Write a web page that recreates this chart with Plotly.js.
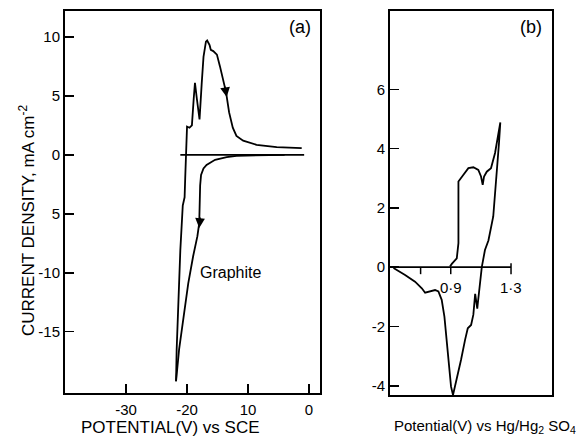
<!DOCTYPE html>
<html>
<head>
<meta charset="utf-8">
<script src="https://cdn.plot.ly/plotly-3.0.1.min.js"></script>
<style>html,body{margin:0;padding:0;background:#fff;}#chart{width:579px;height:438px;}</style>
</head>
<body>
<div id="chart"></div>
<script>
// ---- Panel (a): graphite, potential (V) vs SCE, current density mA cm^-2 ----
const aBaseX = [-21.1, -0.8];
const aBaseY = [0, 0];
const aCathX = [-4.0, -8.0, -10.5, -11.9, -13.5, -14.6, -15.4, -16.0, -16.8, -17.3, -17.7, -17.85, -17.9, -18.0, -18.3, -19.0, -19.8, -20.6, -21.3, -21.8];
const aCathY = [0, -0.02, -0.05, -0.08, -0.2, -0.3, -0.42, -0.6, -0.85, -1.15, -1.7, -2.6, -3.8, -5.8, -6.9, -8.6, -10.9, -13.7, -16.5, -19.2];
const aAnodX = [-21.8, -21.7, -21.4, -21.1, -20.7, -20.4, -20.3, -20.15, -20.0, -19.6, -19.2, -18.9, -18.7, -18.4, -17.95, -17.6, -17.3, -16.9, -16.7, -16.3, -16.1, -15.7, -15.1, -14.6, -14.0, -13.6, -13.1, -12.5, -11.9, -10.8, -8.6, -5.3, -1.2];
const aAnodY = [-19.2, -16.5, -12.3, -8.1, -4.3, -3.6, -2.0, 0.5, 2.4, 2.3, 2.5, 4.8, 6.1, 4.8, 3.0, 6.0, 8.3, 9.6, 9.7, 9.3, 8.9, 8.8, 8.5, 7.5, 6.1, 5.3, 3.6, 2.3, 1.6, 1.2, 0.85, 0.65, 0.57];
const aXTickVals = [-30, -20, -10, 0];
const aXTickText = ['-30', '-20', '10', '0'];
const aYTickVals = [10, 5, 0, -5, -10, -15];
const aYTickText = ['10', '5', '0', '5', '-10', '-15'];
const aArrowX = [-13.5, -18.0];
const aArrowY = [4.9, -6.2];

// ---- Panel (b): potential (V) vs Hg/Hg2SO4 ----
const bX = [0.52, 0.597, 0.663, 0.708, 0.73, 0.763, 0.796, 0.818, 0.84, 0.858, 0.873, 0.889, 0.902, 0.915, 0.94, 0.968, 0.995, 1.013, 1.035, 1.05, 1.062, 1.076, 1.08, 1.106, 1.127, 1.15, 1.182, 1.205, 1.22, 1.229, 1.194, 1.167, 1.139, 1.121, 1.112, 1.101, 1.083, 1.05, 1.017, 0.983, 0.962, 0.951, 0.951, 0.94, 0.907, 0.895];
const bY = [-0.03, -0.26, -0.49, -0.71, -0.86, -0.82, -0.77, -0.82, -1.10, -1.67, -2.56, -3.46, -4.03, -4.31, -3.80, -3.13, -2.45, -2.06, -1.95, -1.6, -0.9, -1.4, -1.2, 0, 0.58, 0.9, 1.71, 3.06, 4.18, 4.88, 3.85, 3.34, 3.22, 3.06, 2.78, 3.06, 3.28, 3.37, 3.34, 3.11, 2.94, 2.89, 0.81, 0.30, 0.11, 0.02];
const bYTickVals = [6, 4, 2, 0, -2, -4];
const bYTickText = ['6', '4', '2', '0', '-2', '-4'];
const bInnerStart = 0.5;
const bInnerEnd = 1.3;
const bInnerTickVals = [0.7, 0.9, 1.3];
const bInnerTickText = ['', '0·9', '1·3'];

const lineStyle = {color: '#000', width: 1.8};
const traces = [
  {x: aBaseX, y: aBaseY, mode: 'lines', line: lineStyle, xaxis: 'x', yaxis: 'y', hoverinfo: 'skip'},
  {x: aCathX, y: aCathY, mode: 'lines', line: lineStyle, xaxis: 'x', yaxis: 'y', hoverinfo: 'skip'},
  {x: aAnodX, y: aAnodY, mode: 'lines', line: lineStyle, xaxis: 'x', yaxis: 'y', hoverinfo: 'skip'},
  {x: bX, y: bY, mode: 'lines', line: lineStyle, xaxis: 'x2', yaxis: 'y2', hoverinfo: 'skip'}
];

const axisCommon = {
  showline: true, mirror: true, linewidth: 2, linecolor: '#000',
  showgrid: false, zeroline: false, ticks: 'inside', ticklen: 9, tickwidth: 1.5, tickcolor: '#000',
  tickfont: {size: 15, color: '#000'}, fixedrange: true
};

const shapes = [
  {type: 'line', xref: 'x2', yref: 'y2', x0: bInnerStart, x1: bInnerEnd, y0: 0, y1: 0, line: {color: '#000', width: 1.8}}
];
bInnerTickVals.forEach((v, i) => {
  const last = i === bInnerTickVals.length - 1;
  shapes.push({type: 'line', xref: 'x2', yref: 'y2', ysizemode: 'pixel', yanchor: 0,
    x0: v, x1: v, y0: last ? 4 : 0, y1: -7, line: {color: '#000', width: 1.5}});
});

const annotations = [
  {text: 'CURRENT DENSITY, mA cm<sup>-2</sup>', xref: 'paper', yref: 'paper', x: 0.0466, y: 0.4977,
   textangle: -90, showarrow: false, xanchor: 'center', yanchor: 'middle', font: {size: 17}},
  {text: 'POTENTIAL(V) vs SCE', xref: 'paper', yref: 'paper', x: 0.2953, y: 0.025,
   showarrow: false, xanchor: 'center', yanchor: 'middle', font: {size: 17}},
  {text: 'Potential(V) vs Hg/Hg<sub>2</sub> SO<sub>4</sub>', xref: 'paper', yref: 'paper', x: 0.838, y: 0.027,
   showarrow: false, xanchor: 'center', yanchor: 'middle', font: {size: 15}},
  {text: '(a)', xref: 'paper', yref: 'paper', x: 0.518, y: 0.938, showarrow: false, xanchor: 'center', yanchor: 'middle', font: {size: 18}},
  {text: '(b)', xref: 'paper', yref: 'paper', x: 0.917, y: 0.938, showarrow: false, xanchor: 'center', yanchor: 'middle', font: {size: 18}},
  {text: 'Graphite', xref: 'x', yref: 'y', x: -12.95, y: -10.0, showarrow: false, xanchor: 'center', yanchor: 'middle',
   font: {size: 16}}
];
aArrowX.forEach((x, i) => {
  annotations.push({x: x, y: aArrowY[i], xref: 'x', yref: 'y', text: '', showarrow: true,
    arrowhead: 2, arrowsize: 1.3, arrowwidth: 1.5, arrowcolor: '#000', ax: i === 0 ? -2 : 1, ay: -12});
});
bInnerTickVals.forEach((v, i) => {
  if (bInnerTickText[i]) {
    annotations.push({text: bInnerTickText[i], xref: 'x2', yref: 'y2', x: v, y: 0, yshift: -20,
      showarrow: false, xanchor: 'center', yanchor: 'middle', font: {size: 15}});
  }
});

const layout = {
  width: 579, height: 438,
  margin: {l: 0, r: 0, t: 0, b: 0},
  paper_bgcolor: '#fff', plot_bgcolor: '#fff',
  showlegend: false,
  font: {family: '"Liberation Sans", Arial, sans-serif', color: '#000'},
  xaxis: Object.assign({}, axisCommon, {domain: [0.1123, 0.5527], range: [-40, 1.8], anchor: 'y',
    tickvals: aXTickVals, ticktext: aXTickText, ticklabelstandoff: 2}),
  yaxis: Object.assign({}, axisCommon, {domain: [0.1027, 0.9749], range: [-20.2, 12.2], anchor: 'x',
    tickvals: aYTickVals, ticktext: aYTickText}),
  xaxis2: Object.assign({}, axisCommon, {domain: [0.6736, 0.9534], range: [0.497, 1.572], anchor: 'y2',
    ticks: '', showticklabels: false}),
  yaxis2: Object.assign({}, axisCommon, {domain: [0.0982, 0.9749], range: [-4.31, 8.64], anchor: 'x2',
    tickvals: bYTickVals, ticktext: bYTickText}),
  shapes: shapes,
  annotations: annotations
};

Plotly.newPlot('chart', traces, layout, {staticPlot: true, displayModeBar: false});
</script>
</body>
</html>
